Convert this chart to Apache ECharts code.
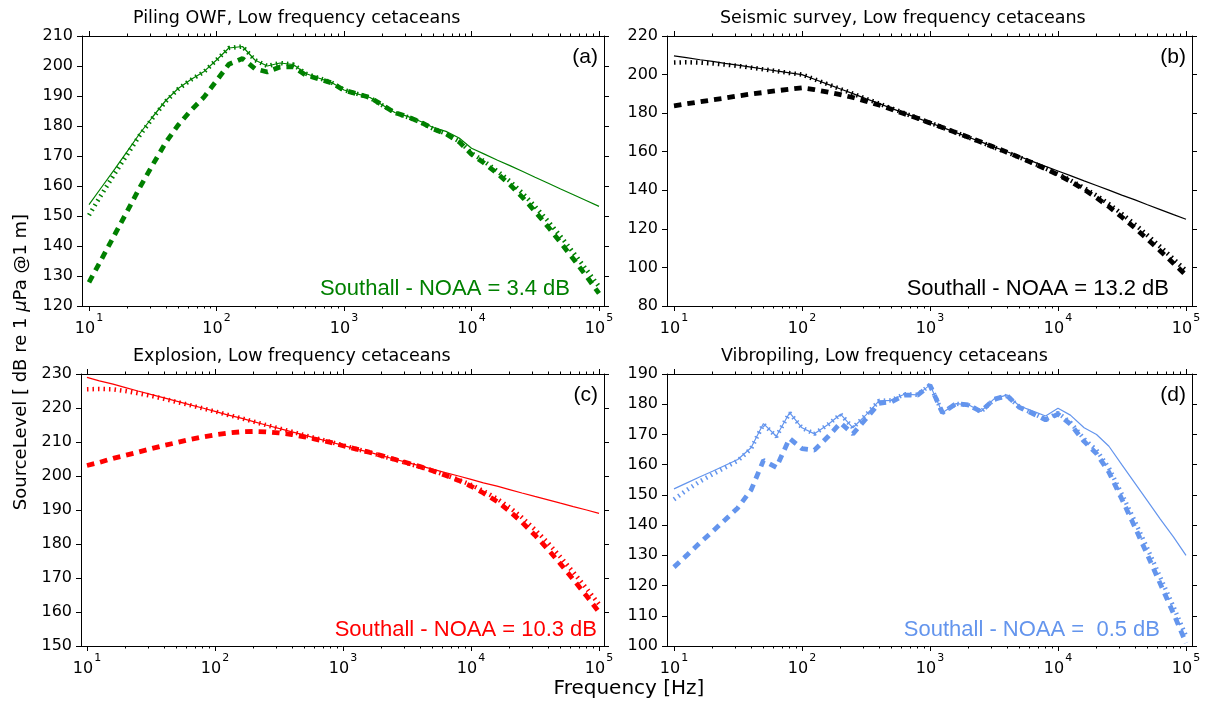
<!DOCTYPE html>
<html><head><meta charset="utf-8">
<script src="https://cdn.jsdelivr.net/npm/echarts@6/dist/echarts.min.js"></script>
<style>html,body{margin:0;padding:0;background:#fff}#c{width:1208px;height:704px}</style>
</head><body><div id="c"></div>
<script>
// ---- data ----
const freqs = [10, 12.5, 16, 20, 25, 31.5, 40, 50, 63, 80, 100, 125, 160, 200, 250, 315, 400, 500, 630, 800,
  1000, 1250, 1600, 2000, 2500, 3150, 4000, 5000, 6300, 8000, 10000, 12500, 16000, 20000, 25000, 31500,
  40000, 50000, 63000, 80000, 100000];

const pilingFlat = [153.8, 159.5, 165.8, 171.6, 177.5, 183, 188.5, 192.5, 195.5, 198.2, 202, 206, 206.5, 202, 200, 201, 200.5, 197.5, 196, 194.5,
  192, 190.8, 189.5, 187, 184.5, 183.2, 181.5, 179.5, 178.2, 176, 172.6, 170.7, 168.6, 166.8, 164.9, 162.9, 160.9, 159.0, 157.1, 155.1, 153.2];
const pilingSouthall = [150.3, 157.1, 164.3, 170.6, 176.9, 182.6, 188.2, 192.3, 195.4, 198.1, 202, 206, 206.5, 202, 200, 201, 200.5, 197.5, 196, 194.5,
  192, 190.8, 189.4, 186.9, 184.4, 183, 181.2, 179.1, 177.5, 174.9, 171, 168.3, 164.9, 161.6, 157.7, 153.2, 148.2, 143.2, 137.8, 132, 126.5];
const pilingNoaa = [127.9, 135.5, 144, 151.7, 159.5, 167, 174.5, 180.3, 185.2, 189.7, 195.1, 200.6, 202.5, 199.1, 198, 199.7, 199.7, 197, 195.7, 194.4,
  191.9, 190.8, 189.5, 187, 184.45, 183.1, 181.25, 179.05, 177.4, 174.7, 170.6, 167.7, 164.1, 160.45, 156.3, 151.55, 146.3, 141.15, 135.65, 129.8, 124.2];

const seismicFlat = [209.7, 208.8, 207.7, 206.8, 205.8, 204.9, 203.9, 202.9, 201.9, 200.9, 200, 197.6, 194.9, 192.5, 190.1, 187.5, 185, 182.5, 180, 177.4,
  175, 172.6, 169.9, 167.5, 165.1, 162.5, 160, 157.5, 155, 152.4, 150, 147.6, 144.9, 142.5, 140.1, 137.5, 135, 132.5, 130, 127.4, 125];
const seismicSouthall = [206.2, 206.4, 206.2, 205.8, 205.2, 204.5, 203.6, 202.7, 201.8, 200.8, 200, 197.6, 194.9, 192.5, 190.1, 187.5, 185, 182.5, 180, 177.4,
  175, 172.6, 169.9, 167.4, 165, 162.3, 159.7, 157.1, 154.3, 151.3, 148.4, 145.2, 141.2, 137.3, 132.9, 127.8, 122.3, 116.7, 110.7, 104.3, 98.3];
const seismicNoaa = [183.8, 184.8, 185.9, 186.9, 187.8, 188.9, 189.9, 190.7, 191.6, 192.4, 193.1, 192.2, 190.9, 189.6, 188.1, 186.2, 184.2, 182, 179.7, 177.3,
  174.9, 172.6, 169.9, 167.5, 165.05, 162.4, 159.75, 157.05, 154.2, 151.1, 148, 144.6, 140.4, 136.15, 131.5, 126.15, 120.4, 114.65, 108.55, 102.1, 96];

const explosionFlat = [229, 228, 227, 226, 225, 224, 223, 222, 221, 220, 219, 218, 217, 216, 215, 214, 213, 212, 211, 210,
  209, 208, 207, 206, 205, 204, 203, 202, 201, 200, 199, 198, 197, 196, 195, 194, 193, 192, 191, 190, 189];
const explosionSouthall = [225.5, 225.6, 225.5, 225, 224.35, 223.6, 222.7, 221.8, 220.9, 219.9, 219, 218, 217, 216, 215, 214, 213, 212, 211, 210,
  209, 208, 207, 205.9, 204.9, 203.8, 202.7, 201.6, 200.3, 198.9, 197.4, 195.6, 193.3, 190.8, 187.8, 184.3, 180.3, 176.2, 171.7, 166.9, 162.3];
const explosionNoaa = [203.1, 204, 205.2, 206.1, 207, 208, 209, 209.8, 210.7, 211.5, 212.1, 212.6, 213, 213.1, 213, 212.7, 212.2, 211.5, 210.7, 209.9,
  208.9, 208, 207, 206, 204.95, 203.9, 202.75, 201.55, 200.2, 198.7, 197, 195, 192.5, 189.65, 186.4, 182.65, 178.4, 174.15, 169.55, 164.7, 160];

const vibroFlat = [152, 153.9, 156, 157.8, 159.7, 161.7, 165.6, 173.6, 169.4, 177.2, 172.2, 170.2, 173.3, 176.7, 172.2, 176.4, 181.1, 181.3, 183.3, 183.1,
  186.4, 177.2, 180.2, 179.8, 177.6, 181.7, 183.1, 179.4, 177.8, 176.1, 178.7, 176.4, 172.2, 170, 166.1, 160, 153.8, 148, 142, 136, 130];
const vibroSouthall = [148.5, 151.5, 154.5, 156.8, 159.05, 161.3, 165.3, 173.4, 169.3, 177.1, 172.2, 170.2, 173.3, 176.7, 172.2, 176.4, 181.1, 181.3, 183.3, 183.1,
  186.4, 177.2, 180.15, 179.7, 177.5, 181.5, 182.8, 179, 177.1, 175, 177.1, 174, 168.5, 164.8, 158.9, 150.3, 141.1, 132.2, 122.7, 112.9, 103.3];
const vibroNoaa = [126.1, 129.9, 134.2, 137.9, 141.7, 145.7, 151.6, 161.4, 159.1, 168.7, 165.3, 164.8, 169.3, 173.8, 170.2, 175.1, 180.3, 180.8, 183, 183,
  186.3, 177.2, 180.2, 179.8, 177.55, 181.6, 182.85, 178.95, 177, 174.8, 176.7, 173.4, 167.7, 163.65, 157.5, 148.65, 139.2, 130.15, 120.55, 110.7, 101];

const panelTitles = ['Piling OWF, Low frequency cetaceans', 'Seismic survey, Low frequency cetaceans',
  'Explosion, Low frequency cetaceans', 'Vibropiling, Low frequency cetaceans'];
const diffTexts = ['Southall - NOAA = 3.4 dB', 'Southall - NOAA = 13.2 dB', 'Southall - NOAA = 10.3 dB', 'Southall - NOAA =  0.5 dB'];
const panelLetters = ['(a)', '(b)', '(c)', '(d)'];
const yMins = [120, 80, 150, 100];
const yMaxs = [210, 220, 230, 190];
const yIntervals = [10, 20, 10, 10];
const xMajorTicks = [10, 100, 1000, 10000, 100000];
const xMinorTicks = [20, 30, 40, 50, 60, 70, 80, 90, 200, 300, 400, 500, 600, 700, 800, 900,
  2000, 3000, 4000, 5000, 6000, 7000, 8000, 9000, 20000, 30000, 40000, 50000, 60000, 70000, 80000, 90000];
const xLabel = 'Frequency [Hz]';
const yLabel = 'SourceLevel [ dB re 1 {i|μ}Pa @1 m]';

// ---- layout / style ----
const panelData = [
  [pilingFlat, pilingSouthall, pilingNoaa],
  [seismicFlat, seismicSouthall, seismicNoaa],
  [explosionFlat, explosionSouthall, explosionNoaa],
  [vibroFlat, vibroSouthall, vibroNoaa]
];
const colors = ['#008000', '#000000', '#ff0000', '#6495ed'];
const grids = [
  {left: 82, top: 36, width: 522, height: 270},
  {left: 667, top: 36, width: 525, height: 270},
  {left: 81, top: 374, width: 523, height: 272},
  {left: 667, top: 374, width: 525, height: 272}
];
const xExt = [[8.81, 109400], [8.82, 111400], [8.98, 109400], [8.82, 111400]];
const titlePos = [[133, 18], [720, 18], [133, 356], [721, 356]];
const diffPos = [[570, 289], [1169, 289], [597, 630], [1160, 630]];
const letterPos = [[598, 57], [1186, 57], [598, 395], [1186, 395]];
const FONT = 'DejaVu Sans';
const AFONT = 'Liberation Sans';

const xAxes = [], yAxes = [], series = [], graphics = [];
const pairs = (vals) => freqs.map((f, k) => [f, vals[k]]);

grids.forEach((g, i) => {
  const base = {type: 'log', logBase: 10, gridIndex: i, min: xExt[i][0], max: xExt[i][1],
    splitLine: {show: false}, minorTick: {show: false}};
  const lineOn = {show: true, onZero: false, lineStyle: {color: '#000', width: 1}};
  xAxes.push(Object.assign({}, base, {
    position: 'bottom', axisLine: lineOn,
    axisTick: {show: true, inside: false, length: 5, customValues: xMajorTicks, lineStyle: {color: '#000'}},
    axisLabel: {show: true, margin: 7, customValues: xMajorTicks,
      formatter: v => '{m|10}{e|' + Math.round(Math.log10(v)) + '}',
      rich: {
        m: {fontSize: 16, fontFamily: FONT, color: '#000', lineHeight: 24, verticalAlign: 'bottom'},
        e: {fontSize: 11, fontFamily: FONT, color: '#000', lineHeight: 13, verticalAlign: 'top', padding: [0, 0, 0, 1]}
      }}
  }));
  xAxes.push(Object.assign({}, base, {
    position: 'bottom', axisLine: {show: false}, axisLabel: {show: false},
    axisTick: {show: true, inside: false, length: 2.5, customValues: xMinorTicks, lineStyle: {color: '#000'}}
  }));
  xAxes.push(Object.assign({}, base, {
    position: 'top', axisLine: lineOn, axisLabel: {show: false},
    axisTick: {show: true, inside: false, length: 5, customValues: xMajorTicks, lineStyle: {color: '#000'}}
  }));
  xAxes.push(Object.assign({}, base, {
    position: 'top', axisLine: {show: false}, axisLabel: {show: false},
    axisTick: {show: true, inside: false, length: 2.5, customValues: xMinorTicks, lineStyle: {color: '#000'}}
  }));
  const ybase = {type: 'value', gridIndex: i, min: yMins[i], max: yMaxs[i], interval: yIntervals[i],
    splitLine: {show: false}, axisLine: lineOn};
  yAxes.push(Object.assign({}, ybase, {
    position: 'left',
    axisTick: {show: true, inside: false, length: 5, lineStyle: {color: '#000'}},
    axisLabel: {show: true, margin: 9, fontSize: 16, fontFamily: FONT, color: '#000'}
  }));
  yAxes.push(Object.assign({}, ybase, {
    position: 'right',
    axisTick: {show: true, inside: false, length: 5, lineStyle: {color: '#000'}},
    axisLabel: {show: false}
  }));
  const [flat, south, noaa] = panelData[i];
  const c = colors[i];
  const common = {type: 'line', xAxisIndex: 4 * i, yAxisIndex: 2 * i, symbol: 'none', showSymbol: false,
    smooth: false, animation: false, silent: true};
  series.push(Object.assign({}, common, {data: pairs(flat), lineStyle: {color: c, width: 1.2, type: 'solid'}, z: 3}));
  series.push(Object.assign({}, common, {data: pairs(south), lineStyle: {color: c, width: 4.5, type: [1.5, 4]}, z: 4}));
  series.push(Object.assign({}, common, {data: pairs(noaa), lineStyle: {color: c, width: 4.8, type: [7.5, 6]}, z: 2}));

  graphics.push({type: 'text', x: titlePos[i][0], y: titlePos[i][1], z: 10,
    style: {text: panelTitles[i], fill: '#000', font: '17.5px "' + FONT + '"', align: 'left', textAlign: 'left',
      verticalAlign: 'middle', textVerticalAlign: 'middle'}});
  graphics.push({type: 'text', x: diffPos[i][0], y: diffPos[i][1], z: 10,
    style: {text: diffTexts[i], fill: c, font: '22px "' + AFONT + '"', align: 'right', textAlign: 'right',
      verticalAlign: 'middle', textVerticalAlign: 'middle'}});
  graphics.push({type: 'text', x: letterPos[i][0], y: letterPos[i][1], z: 10,
    style: {text: panelLetters[i], fill: '#000', font: '21px "' + AFONT + '"', align: 'right', textAlign: 'right',
      verticalAlign: 'middle', textVerticalAlign: 'middle'}});
});

graphics.push({type: 'text', x: 629, y: 689, z: 10,
  style: {text: xLabel, fill: '#000', font: '20px "' + FONT + '"', align: 'center', textAlign: 'center',
    verticalAlign: 'middle', textVerticalAlign: 'middle'}});
graphics.push({type: 'text', x: 21, y: 362, rotation: Math.PI / 2, z: 10,
  style: {text: yLabel, fill: '#000', font: '18px "' + FONT + '"',
    fontSize: 18, fontFamily: FONT,
    align: 'center', textAlign: 'center', verticalAlign: 'middle', textVerticalAlign: 'middle',
    rich: {i: {fontStyle: 'italic', fontSize: 18, fontFamily: FONT, fill: '#000', color: '#000'}}}});

const chart = echarts.init(document.getElementById('c'), null, {renderer: 'canvas'});
chart.setOption({
  animation: false,
  backgroundColor: '#ffffff',
  grid: grids.map(g => Object.assign({containLabel: false, show: false}, g)),
  xAxis: xAxes,
  yAxis: yAxes,
  series: series,
  graphic: graphics
});
</script></body></html>
